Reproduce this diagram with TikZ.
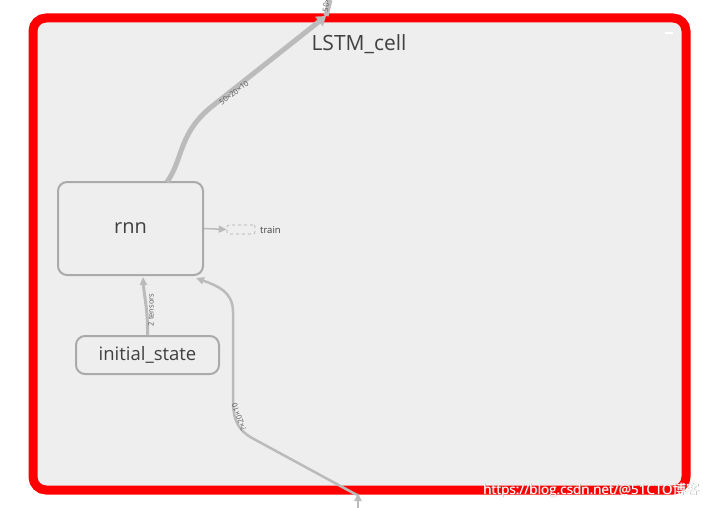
\documentclass[tikz,border=0pt]{standalone}
\usepackage{fontspec}
\setmainfont{Open Sans}
\newfontfamily\cjkfont{Noto Sans CJK SC}
\usetikzlibrary{arrows.meta}
\definecolor{edgegray}{HTML}{BBBBBB}
\definecolor{boxgray}{HTML}{AAAAAA}
\definecolor{bgcell}{HTML}{EEEEEE}
\begin{document}
\begin{tikzpicture}[x=1pt,y=-1pt,
  opbox/.style={draw=boxgray, line width=2pt, fill=bgcell, rounded corners=9pt, text=black!75, inner sep=0pt},
  edge/.style={draw=edgegray, -{Triangle[length=8pt,width=7pt]}},
  elabel/.style={font=\fontsize{7.5}{8}\selectfont, text=black!65, inner sep=1pt},
]
\useasboundingbox (0,0) rectangle (715,508);
% cluster
\node (cell) [draw=red, line width=9pt, fill=bgcell, rounded corners=13pt, minimum width=653pt, minimum height=472pt, inner sep=0pt] at (359.5,254) {};
\node (title) [font=\fontsize{21}{24}\selectfont, text=black!75] at (359,44) {LSTM\_cell};
\draw[white, line width=1.5pt] (665,33) -- (673,33);
% nodes
\node (rnn) [opbox, minimum width=145pt, minimum height=93pt, font=\fontsize{20}{23}\selectfont] at (130.5,228.5) {rnn};
\node (init) [opbox, minimum width=143pt, minimum height=38pt, font=\fontsize{18.5}{21}\selectfont] at (147.5,355) {initial\_state};
\node (train) [draw=boxgray, dashed, line width=0.6pt, rounded corners=2pt, minimum width=28pt, minimum height=9pt, inner sep=0pt] at (241,229.5) {};
\node (trainlbl) [anchor=west, font=\fontsize{9.5}{10}\selectfont, text=black!75, inner sep=0pt] at (260,230) {train};
% coordinates
\coordinate (topin) at (326,16);
\coordinate (topout) at (330,0);
\coordinate (botin) at (358,493);
\coordinate (botout) at (358,508);
% edges
\draw[edge, line width=1.5pt] (rnn.east) -- (train.west);
\draw[edge, line width=5pt, -{Triangle[length=9pt,width=12pt]}] (167,182) .. controls (184,158) and (178,132) .. (215,104) -- (topin);
\draw[draw=edgegray, line width=5pt] (topin) -- (topout);
\draw[edge, line width=3pt] (init.north) .. controls (148,310) and (144,295) .. (143,277);
\draw[edge, line width=2.5pt] (botout) -- (botin);
\draw[edge, line width=2.5pt] (357,495) -- (252,438) .. controls (238,430) and (233,420) .. (233,400) -- (233,312) .. controls (233,292) and (218,286) .. (196,278);
% edge labels
\node[elabel, rotate=37] at (234,93) {50×20×10};
\node[elabel, rotate=82, anchor=west] at (325,13) {50×20×10};
\node[elabel, rotate=90] at (151,310) {2 tensors};
\node[elabel, rotate=110] at (239,417) {?×20×10};
% watermark
\node[anchor=west, font=\fontsize{13.5}{15}\selectfont, text=gray!60, inner sep=0pt] at (483.6,490.6) {https://blog.csdn.net/@51CTO{\cjkfont 博客}};
\node[anchor=west, font=\fontsize{13.5}{15}\selectfont, text=white, inner sep=0pt] at (483,490) {https://blog.csdn.net/@51CTO{\cjkfont 博客}};
\end{tikzpicture}
\end{document}
